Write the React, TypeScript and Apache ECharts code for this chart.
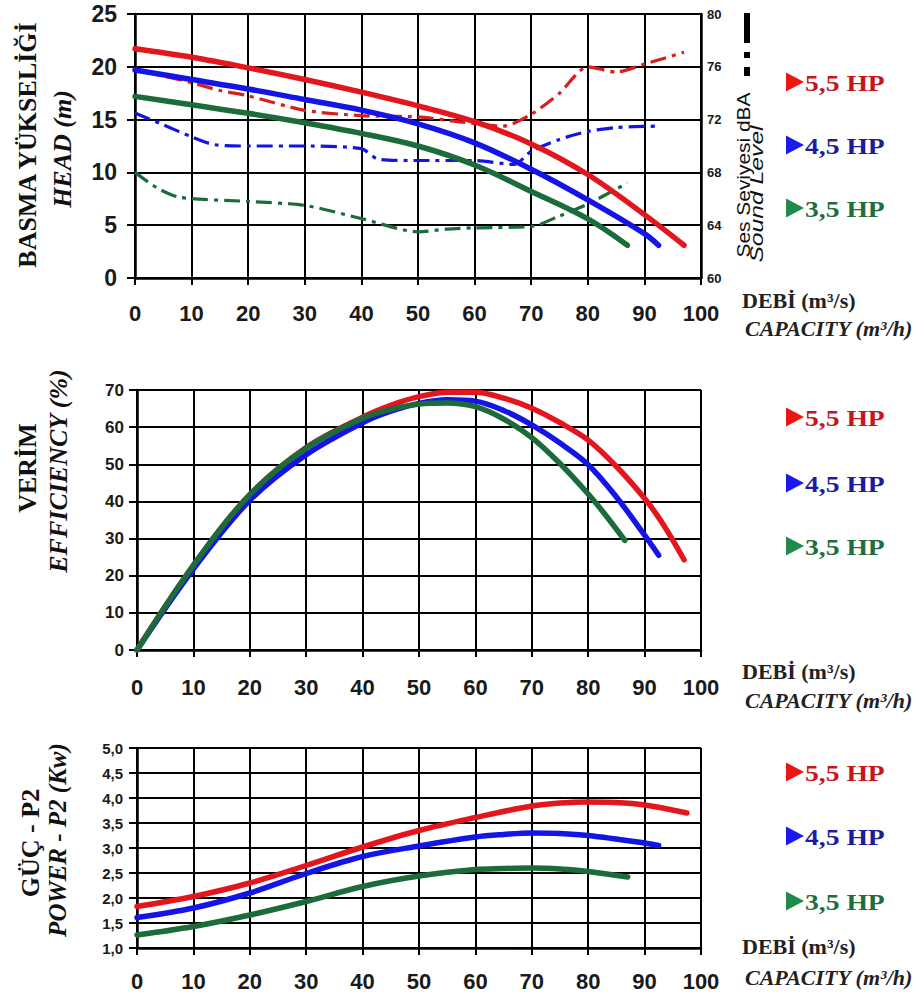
import React, { useEffect, useRef } from "react";
import * as echarts from "echarts";

// ---------- DATA ----------
// Head (m) vs capacity (m³/h)
const headRed = [[0, 21.7], [10, 20.9], [20, 19.9], [30, 18.8], [40, 17.6], [50, 16.3], [60, 14.8], [70, 12.7], [80, 9.8], [90, 6.0], [97, 3.1]];
const headBlue = [[0, 19.7], [10, 18.8], [20, 17.9], [30, 16.9], [40, 15.9], [50, 14.6], [60, 12.8], [70, 10.3], [80, 7.4], [90, 4.2], [92.5, 3.1]];
const headGreen = [[0, 17.2], [10, 16.4], [20, 15.6], [30, 14.7], [40, 13.7], [50, 12.5], [60, 10.7], [70, 8.2], [80, 5.6], [87, 3.1]];
// Sound level (dBA)
const soundRed = [[0, 75.8], [10, 74.8], [15, 74.2], [20, 73.8], [30, 72.7], [40, 72.3], [50, 72.2], [58, 71.8], [65, 71.5], [70, 72.4], [75, 74.0], [80, 76.0], [85, 75.6], [90, 76.2], [97, 77.1]];
const soundBlue = [[0, 72.5], [5, 71.6], [10, 70.7], [14, 70.1], [20, 70.0], [30, 70.0], [40, 69.8], [43, 69.0], [50, 68.9], [60, 68.9], [67, 68.6], [70, 69.6], [75, 70.5], [80, 71.1], [85, 71.4], [92, 71.5]];
const soundGreen = [[0, 68.0], [4, 66.8], [8, 66.1], [20, 65.8], [30, 65.5], [40, 64.5], [50, 63.5], [55, 63.7], [60, 63.8], [70, 63.9], [75, 64.7], [80, 65.6], [87, 67.2]];
// Efficiency (%)
const effRed = [[0, 0], [10, 22.8], [20, 41.8], [30, 54.5], [40, 62.7], [45, 65.9], [50, 68.2], [55, 69.4], [60, 69.4], [65, 67.8], [70, 65.1], [75, 61.2], [80, 56.5], [85, 49.4], [90, 40.8], [93, 34.5], [97, 24.3]];
const effBlue = [[0, 0], [10, 21.8], [20, 40.3], [30, 52.6], [40, 61.2], [45, 64.3], [50, 66.4], [55, 67.4], [60, 67.0], [65, 64.5], [70, 60.6], [75, 55.7], [80, 49.9], [85, 41.2], [90, 30.9], [92.5, 25.5]];
const effGreen = [[0, 0], [10, 22.8], [20, 41.8], [30, 54.4], [40, 62.4], [45, 64.8], [50, 66.2], [55, 66.5], [60, 65.5], [65, 62.2], [70, 57.2], [75, 50.2], [80, 42.0], [83, 36.5], [86.5, 29.5]];
// Power P2 (kW)
const powRed = [[0, 1.83], [10, 2.03], [20, 2.3], [30, 2.65], [40, 3.02], [50, 3.35], [60, 3.61], [70, 3.84], [75, 3.9], [80, 3.92], [85, 3.91], [90, 3.86], [97.5, 3.7]];
const powBlue = [[0, 1.61], [10, 1.8], [20, 2.1], [30, 2.49], [40, 2.83], [50, 3.04], [60, 3.22], [65, 3.27], [70, 3.3], [75, 3.29], [80, 3.25], [90, 3.1], [92.5, 3.05]];
const powGreen = [[0, 1.26], [10, 1.43], [20, 1.66], [30, 1.93], [40, 2.23], [50, 2.44], [60, 2.57], [65, 2.59], [70, 2.6], [75, 2.58], [80, 2.53], [87, 2.42]];

const legendLabels = ["5,5 HP", "4,5 HP", "3,5 HP"];

const RED = "#e3161e";
const BLUE = "#1414e6";
const GREEN = "#1b6b3b";
const textColors = ["#c4161c", "#1c1c9e", "#1f6e40"];
const triColors = ["#ee1414", "#1a1aee", "#1f8a4a"];

const SERIF = "'Liberation Serif', 'Times New Roman', serif";
const SANS = "'Liberation Sans', Arial, sans-serif";

function mkX(gridIndex: number, margin: number) {
  return {
    type: "value",
    gridIndex,
    min: 0,
    max: 100,
    interval: 10,
    axisLine: { show: true, onZero: false, lineStyle: { color: "#000", width: 2.5 } },
    axisTick: { show: true, length: 7, lineStyle: { color: "#000", width: 2 } },
    axisLabel: { margin, fontSize: 22, fontWeight: "bold", fontFamily: SANS, color: "#1a1a1a" },
    splitLine: { show: true, lineStyle: { color: "#000", width: 2 } },
  };
}

function mkY(gridIndex: number, min: number, max: number, interval: number, fontSize: number, margin: number, fmt?: (v: number) => string) {
  return {
    type: "value",
    gridIndex,
    min,
    max,
    interval,
    axisLine: { show: true, onZero: false, lineStyle: { color: "#000", width: 2.5 } },
    axisTick: { show: true, length: 8, lineStyle: { color: "#000", width: 2 } },
    axisLabel: { margin, fontSize, fontWeight: "bold", fontFamily: SANS, color: "#1a1a1a", formatter: fmt },
    splitLine: { show: true, lineStyle: { color: "#000", width: 2 } },
  };
}

function curve(data: number[][], color: string, xi: number, yi: number) {
  return {
    type: "line",
    xAxisIndex: xi,
    yAxisIndex: yi,
    data,
    smooth: 0.35,
    symbol: "none",
    lineStyle: { color, width: 5.5, cap: "round" },
    z: 5,
  };
}

function dashCurve(data: number[][], color: string) {
  return {
    type: "line",
    xAxisIndex: 0,
    yAxisIndex: 1,
    data,
    smooth: 0.25,
    symbol: "none",
    lineStyle: { color, width: 3.2, type: [16, 6, 4, 6] },
    z: 3,
  };
}

function txt(text: string, x: number, y: number, o: any) {
  return {
    type: "text",
    x,
    y,
    rotation: o.rotation || 0,
    scaleX: o.scaleX || 1,
    style: {
      text,
      fontFamily: o.family,
      fontSize: o.size,
      fontWeight: o.weight || "normal",
      fontStyle: o.italic ? "italic" : "normal",
      fill: o.fill || "#111",
      textAlign: o.align || "left",
      textVerticalAlign: "middle",
    },
  };
}

function legendBlock(centers: number[]) {
  const els: any[] = [];
  centers.forEach((cy, i) => {
    els.push({
      type: "polygon",
      shape: { points: [[786, cy - 9.5], [786, cy + 9.5], [804, cy]] },
      style: { fill: triColors[i] },
    });
    els.push(txt(legendLabels[i], 805, cy + 1, { family: SERIF, size: 23, weight: "bold", fill: textColors[i], scaleX: 1.2 }));
  });
  return els;
}

function debiBlock(y1: number, y2: number) {
  return [
    txt("DEBİ (m³/s)", 742, y1, { family: SERIF, size: 22, weight: "bold", fill: "#222" }),
    txt("CAPACITY (m³/h)", 745, y2, { family: SERIF, size: 22, weight: "bold", italic: true, fill: "#222" }),
  ];
}

function vText(text: string, x: number, y: number, o: any) {
  return txt(text, x, y, { ...o, rotation: Math.PI / 2, align: "center" });
}

export default function App() {
  const ref = useRef<HTMLDivElement>(null);
  useEffect(() => {
    const chart = echarts.init(ref.current!, null, { renderer: "svg" });
    const fmtComma = (v: number) => v.toFixed(1).replace(".", ",");
    const option: any = {
      animation: false,
      backgroundColor: "#fff",
      grid: [
        { left: 135, top: 14, width: 566, height: 264 },
        { left: 137, top: 390, width: 564, height: 260 },
        { left: 137, top: 748, width: 564, height: 202 },
      ],
      xAxis: [mkX(0, 24), mkX(1, 26), mkX(2, 22)],
      yAxis: [
        mkY(0, 0, 25, 5, 23, 18),
        {
          type: "value",
          gridIndex: 0,
          position: "right",
          min: 60,
          max: 80,
          interval: 4,
          axisLine: { show: true, onZero: false, lineStyle: { color: "#000", width: 2.5 } },
          axisTick: { show: false },
          axisLabel: { margin: 6, fontSize: 13, fontWeight: "bold", fontFamily: SANS, color: "#1a1a1a" },
          splitLine: { show: false },
        },
        mkY(1, 0, 70, 10, 17, 13),
        mkY(2, 1, 5, 0.5, 15, 14, fmtComma),
      ],
      series: [
        dashCurve(soundGreen, GREEN),
        dashCurve(soundBlue, BLUE),
        dashCurve(soundRed, "#d42020"),
        curve(headGreen, GREEN, 0, 0),
        curve(headBlue, BLUE, 0, 0),
        curve(headRed, RED, 0, 0),
        curve(effRed, RED, 1, 2),
        curve(effBlue, BLUE, 1, 2),
        curve(effGreen, GREEN, 1, 2),
        curve(powGreen, GREEN, 2, 3),
        curve(powBlue, BLUE, 2, 3),
        curve(powRed, RED, 2, 3),
      ],
      graphic: [
        vText("BASMA YÜKSELİĞİ", 27, 145, { family: SERIF, size: 26, weight: "bold" }),
        vText("HEAD (m)", 62, 149, { family: SERIF, size: 26, weight: "bold", italic: true }),
        vText("VERİM", 27, 468, { family: SERIF, size: 26, weight: "bold" }),
        vText("EFFICIENCY (%)", 58, 471, { family: SERIF, size: 26, weight: "bold", italic: true }),
        vText("GÜÇ - P2", 30, 843, { family: SERIF, size: 26, weight: "bold" }),
        vText("POWER - P2 (Kw)", 57, 840, { family: SERIF, size: 25, weight: "bold", italic: true }),
        vText("Ses Seviyesi dBA", 743, 175, { family: SANS, size: 19, scaleX: 1.1 }),
        vText("Sound Level", 757, 194, { family: SANS, size: 19, italic: true, scaleX: 1.3 }),
        { type: "rect", shape: { x: 744, y: 13, width: 6, height: 30 }, style: { fill: "#000" } },
        { type: "rect", shape: { x: 744, y: 52, width: 6, height: 6 }, style: { fill: "#000" } },
        { type: "rect", shape: { x: 744, y: 67, width: 6, height: 9 }, style: { fill: "#000" } },
        ...legendBlock([82, 145, 208]),
        ...legendBlock([417, 483, 546]),
        ...legendBlock([772, 836, 901]),
        ...debiBlock(300, 328),
        ...debiBlock(671, 700),
        ...debiBlock(946, 977),
      ],
    };
    chart.setOption(option);
    return () => chart.dispose();
  }, []);
  return (
    <div
      ref={ref}
      style={{ position: "fixed", left: 0, top: 0, width: 924, height: 992, background: "#fff" }}
    />
  );
}
